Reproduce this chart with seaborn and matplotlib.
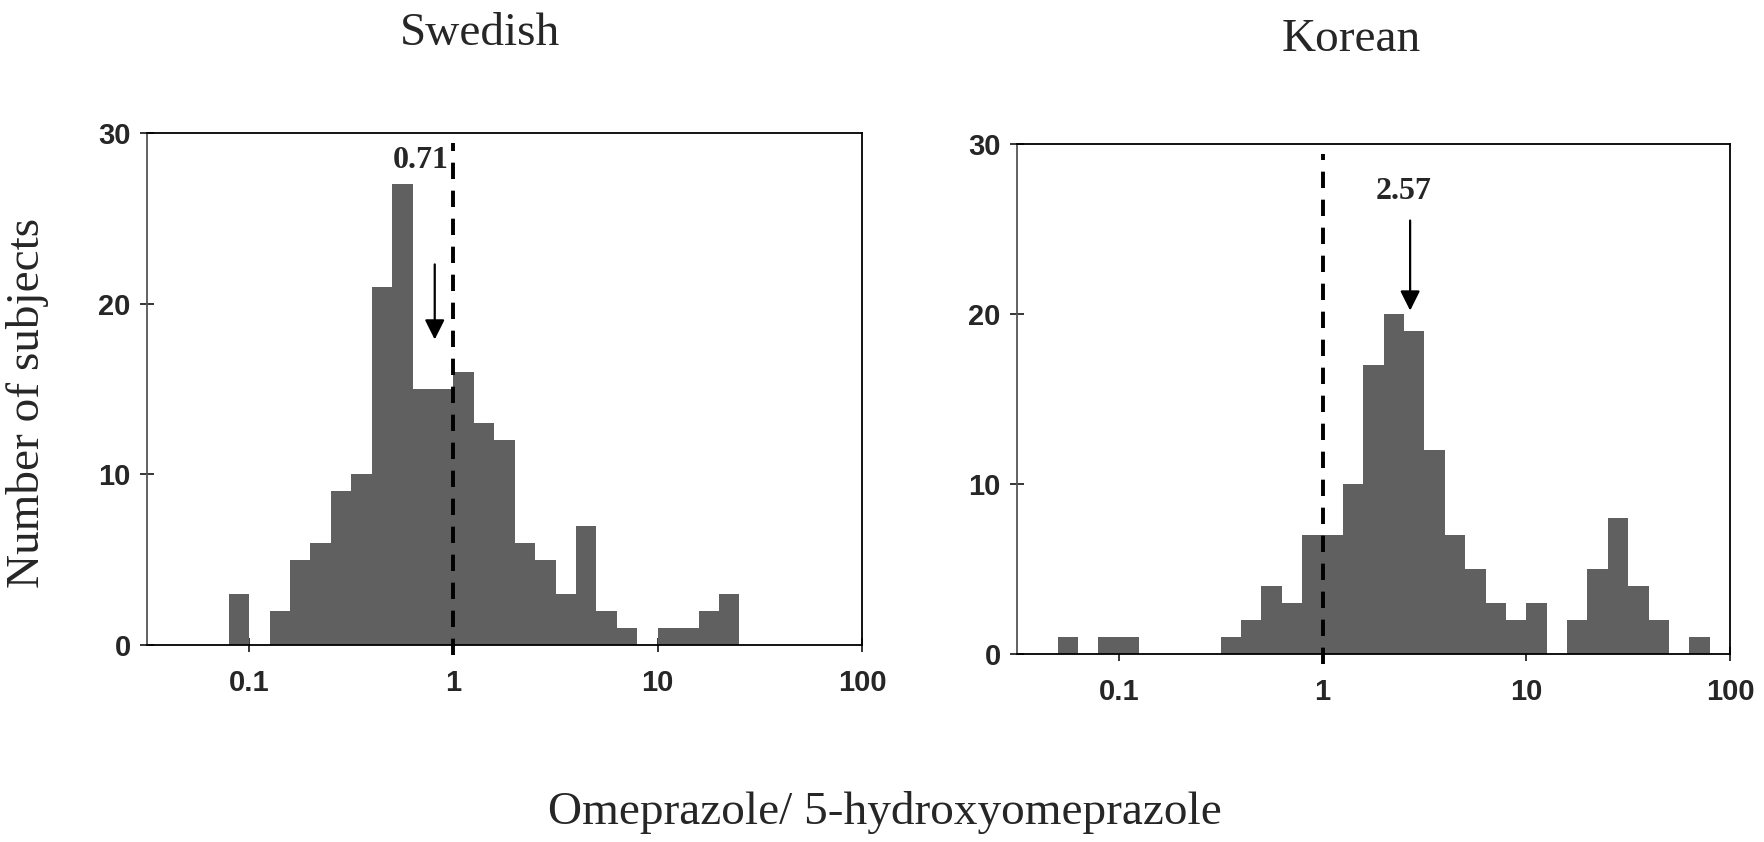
import numpy as np
import matplotlib
matplotlib.use('Agg')
import matplotlib.pyplot as plt
import seaborn as sns

# bins: 35 bins of 0.1 log10 units from 10^-1.5 to 10^2
log_lo, log_hi, n_bins = -1.5, 2.0, 35

swedish_counts = [0, 0, 0, 0, 3, 0, 2, 5, 6, 9, 10, 21, 27, 15, 15, 16, 13, 12,
                  6, 5, 3, 7, 2, 1, 0, 1, 1, 2, 3, 0, 0, 0, 0, 0, 0]
korean_counts = [0, 0, 1, 0, 1, 1, 0, 0, 0, 0, 1, 2, 4, 3, 7, 7, 10, 17, 20,
                 19, 12, 7, 5, 3, 2, 3, 0, 2, 5, 8, 4, 2, 0, 1, 0]

titles = ['Swedish', 'Korean']
median_labels = ['0.71', '2.57']
arrow_x = [0.81, 2.69]
arrow_y = [(22.3, 17.9), (25.5, 20.2)]
label_pos = [(0.693, 28.4), (2.51, 27.2)]

xticks = [0.1, 1, 10, 100]
xtick_labels = ['0.1', '1', '10', '100']
yticks = [0, 10, 20, 30]

sns.set_style('white')
plt.rcParams['font.family'] = ['Liberation Sans', 'DejaVu Sans']

edges = np.linspace(log_lo, log_hi, n_bins + 1)
centers = 10 ** ((edges[:-1] + edges[1:]) / 2)

fig = plt.figure(figsize=(17.64, 8.42), dpi=100)
ax1 = fig.add_axes([147 / 1764, 1 - 645 / 842, 715 / 1764, 512 / 842])
ax2 = fig.add_axes([1017 / 1764, 1 - 654 / 842, 713 / 1764, 510 / 842])

for ax, counts, i in [(ax1, swedish_counts, 0), (ax2, korean_counts, 1)]:
    sns.histplot(x=centers, weights=counts, bins=n_bins, binrange=(log_lo, log_hi),
                 log_scale=True, color='#606060', alpha=1, linewidth=0,
                 ax=ax)
    ax.set_xlim(10 ** log_lo, 10 ** log_hi)
    ax.set_ylim(0, 30)
    ax.set_xticks(xticks)
    ax.set_xticklabels(xtick_labels)
    ax.minorticks_off()
    ax.set_yticks(yticks)
    ax.set_xlabel('')
    ax.set_ylabel('')
    for s in ax.spines.values():
        s.set_visible(True)
        s.set_color('black')
        s.set_linewidth(1.3)
    ax.spines['left'].set_color('#555555')
    ax.tick_params(axis='both', direction='inout', length=9.4, width=1.1,
                   color='black', labelsize=21, bottom=True, left=True)
    ax.tick_params(axis='x', pad=12.5)
    ax.tick_params(axis='y', pad=7)
    for lab in ax.get_xticklabels() + ax.get_yticklabels():
        lab.set_fontweight('bold')

    # dashed line at ratio 1
    ax.plot([1, 1], [-0.6, 29.4], color='black', lw=2.8,
            linestyle=(0, (4.2, 3.0)), clip_on=False, zorder=3)

    # median arrow and label
    ax.annotate('', xy=(arrow_x[i], arrow_y[i][1]), xytext=(arrow_x[i], arrow_y[i][0]),
                arrowprops=dict(arrowstyle='-|>,head_length=0.6,head_width=0.3',
                                color='black', lw=1.6, shrinkA=0, shrinkB=0,
                                mutation_scale=20))
    ax.text(label_pos[i][0], label_pos[i][1], median_labels[i], ha='center',
            va='center', fontsize=23, fontweight='bold', family='Liberation Serif')

fig.text(480 / 1764, 1 - 34 / 842, titles[0], ha='center', va='center',
         fontsize=34, family='Liberation Serif')
fig.text(1351 / 1764, 1 - 40 / 842, titles[1], ha='center', va='center',
         fontsize=34, family='Liberation Serif')
fig.text(28 / 1764, 1 - 403 / 842, 'Number of subjects', rotation=90,
         ha='center', va='center', fontsize=34, family='Liberation Serif')
fig.text(885 / 1764, 1 - 812 / 842, 'Omeprazole/ 5-hydroxyomeprazole',
         ha='center', va='center', fontsize=34, family='Liberation Serif')

fig.savefig('out.png', dpi=100)
